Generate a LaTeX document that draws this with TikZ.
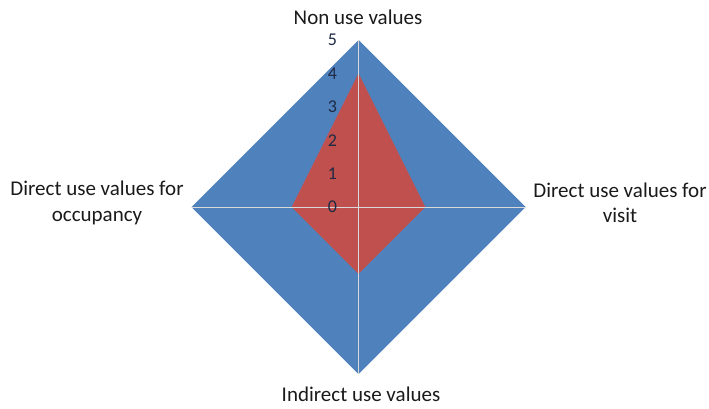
\documentclass[tikz,border=0pt]{standalone}
\usepackage{fontspec}
\usetikzlibrary{calc}
\setmainfont{Carlito}
\definecolor{serA}{HTML}{4F81BD}
\definecolor{serB}{HTML}{C0504D}
\definecolor{axisline}{HTML}{D9D9D9}
\definecolor{ticktext}{HTML}{1F2A44}
\definecolor{labeltext}{HTML}{1A1A1A}
\begin{document}
\begin{tikzpicture}[x=1pt,y=-1pt,
  cat/.style={text=labeltext,align=center,font=\fontsize{21}{25.5}\selectfont,inner sep=0pt},
  tick/.style={text=ticktext,font=\fontsize{18}{20}\selectfont,inner sep=0pt},
  axis/.style={draw=axisline,line width=0.9pt}]
\useasboundingbox (0,0) rectangle (709,408);
% radar geometry: centre and one unit along each axis
\def\unit{33.4}
\coordinate (c) at (358.5,207);
\coordinate (vt) at ($(c)+(0,-5*\unit)$);
\coordinate (vr) at ($(c)+(5*\unit,0)$);
\coordinate (vb) at ($(c)+(0,5*\unit)$);
\coordinate (vl) at ($(c)+(-5*\unit,0)$);
% series 1: all values 5
\fill[serA] (vt) -- (vr) -- (vb) -- (vl) -- cycle;
% series 2: 4, 2, 2, 2
\fill[serB] ($(c)+(0,-4*\unit)$) -- ($(c)+(2*\unit,0)$) -- ($(c)+(0,2*\unit)$) -- ($(c)+(-2*\unit,0)$) -- cycle;
% axes
\draw[axis] (vl) -- (vr);
\draw[axis] (vt) -- (vb);
% tick labels on the vertical axis
\foreach \v in {0,...,5}
  \node[tick] (t\v) at ($(c)+(-26,-\v*\unit)$) {\v};
% category labels
\node[cat] (lt) at (358,17) {Non use values};
\node[cat] (lr) at (620,203) {Direct use values for\\visit};
\node[cat] (lb) at (361,394) {Indirect use values};
\node[cat] (ll) at (97,203) {Direct use values for\\occupancy};
\end{tikzpicture}
\end{document}
